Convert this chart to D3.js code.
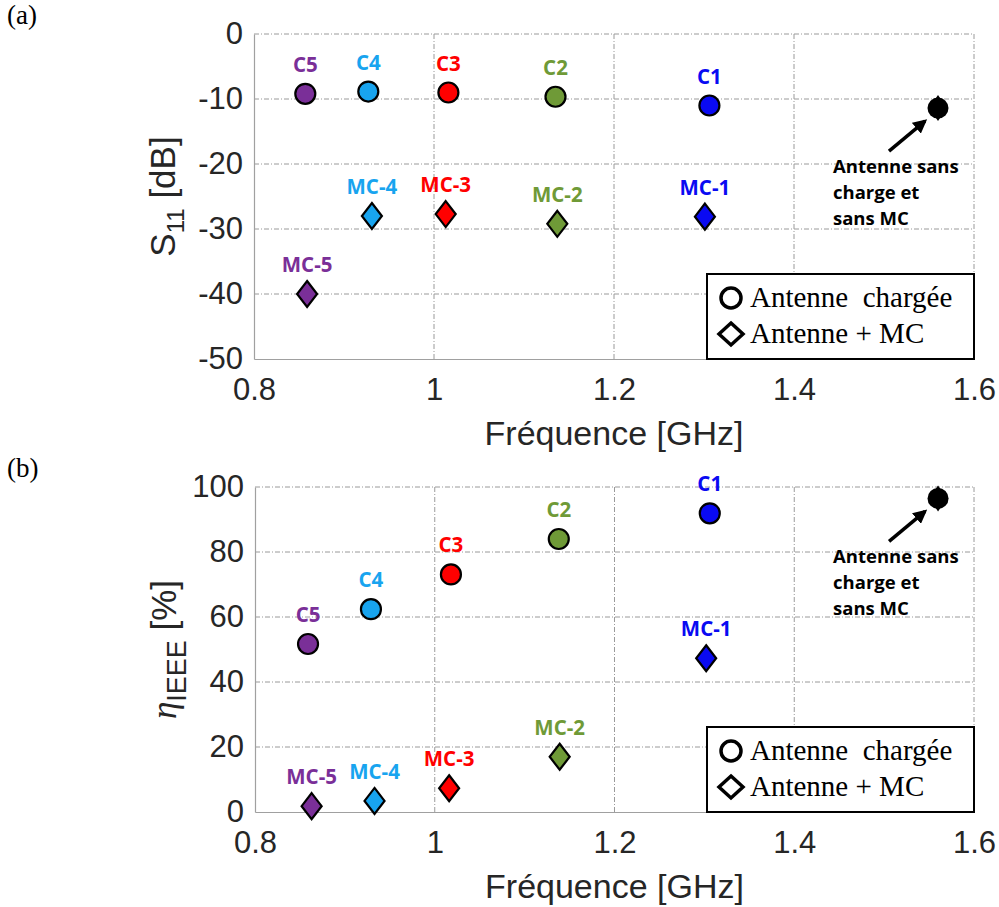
<!DOCTYPE html>
<html>
<head>
<meta charset="utf-8">
<script src="https://cdn.jsdelivr.net/npm/d3@7"></script>
<style>
  body { margin: 0; background: #fff; }
  svg { display: block; }
  .tick text { font-family: "Liberation Sans", Arial, sans-serif; fill: #262626; }
  .ptlabel { font-family: "Open Sans", sans-serif; font-weight: bold; }
</style>
</head>
<body>
<div id="chart"></div>
<script>
// point names and colours (index 0 = C1 / MC-1 ...)
var cNames = ['C1', 'C2', 'C3', 'C4', 'C5'];
var mcNames = ['MC-1', 'MC-2', 'MC-3', 'MC-4', 'MC-5'];
var colors = ['#0a0af2', '#6f9a37', '#ff0000', '#18a4ef', '#7a2f98'];

// panel (a): S11 [dB]
var freqC_a = [1.306, 1.135, 1.016, 0.927, 0.857];
var s11C = [-11.0, -9.65, -9.0, -8.85, -9.2];
var freqMC_a = [1.301, 1.137, 1.013, 0.931, 0.859];
var s11MC = [-28.1, -29.2, -27.7, -28.0, -40.0];

// panel (b): efficiency [%]
var freqC_b = [1.306, 1.138, 1.018, 0.929, 0.859];
var effC = [91.9, 84.0, 73.1, 62.4, 51.7];
var freqMC_b = [1.302, 1.139, 1.016, 0.933, 0.863];
var effMC = [47.3, 17.0, 7.3, 3.4, 1.8];

// antenna without load and without matching circuit
var refFreq = 1.56;
var refS11 = -11.4;
var refEff = 96.5;

var xTicks = [0.8, 1, 1.2, 1.4, 1.6];
var yTicksA = [-50, -40, -30, -20, -10, 0];
var yTicksB = [0, 20, 40, 60, 80, 100];

var width = 999;
var height = 907;

var svg = d3.select('#chart')
	.append('svg')
	.attr('width', width)
	.attr('height', height);

function diamond(hw, hh) {
	return 'M0,' + (-hh) + 'L' + hw + ',0L0,' + hh + 'L' + (-hw) + ',0Z';
}

// arrow head
svg.append('defs').append('marker')
	.attr('id', 'arr')
	.attr('viewBox', '0 0 10 10')
	.attr('refX', 8).attr('refY', 5)
	.attr('markerWidth', 4).attr('markerHeight', 4)
	.attr('orient', 'auto')
	.append('path')
	.attr('d', 'M0,0L10,5L0,10Z')
	.attr('fill', '#000');

function drawPanel(opt) {
	var x = d3.scaleLinear().domain([0.8, 1.6]).range([opt.left, opt.right]);
	var y = d3.scaleLinear().domain(opt.ydomain).range([opt.bottom, opt.top]);
	var g = svg.append('g');

	//grid
	g.append('g').selectAll('line')
		.data(xTicks.slice(1))
		.enter().append('line')
		.attr('x1', d => x(d)).attr('x2', d => x(d))
		.attr('y1', opt.top).attr('y2', opt.bottom)
		.attr('stroke', '#9a9a9a').attr('stroke-width', 1)
		.attr('stroke-dasharray', '5,2,1,2');
	g.append('g').selectAll('line')
		.data(opt.yticks.slice(1))
		.enter().append('line')
		.attr('x1', opt.left).attr('x2', opt.right)
		.attr('y1', d => y(d)).attr('y2', d => y(d))
		.attr('stroke', '#9a9a9a').attr('stroke-width', 1)
		.attr('stroke-dasharray', '5,2,1,2');

	//axes (plain hyphen for the minus sign, as in the original)
	var fmt = d => String(d);
	var xAxis = d3.axisBottom(x).tickValues(xTicks).tickSize(0).tickPadding(19)
		.tickFormat(fmt);
	g.append('g')
		.attr('transform', 'translate(0,' + opt.bottom + ')')
		.call(xAxis)
		.call(a => a.select('.domain').attr('stroke', '#a0a0a0').attr('stroke-width', 1.2))
		.selectAll('text').attr('font-size', 31);

	var yAxis = d3.axisLeft(y).tickValues(opt.yticks).tickSize(0).tickPadding(11)
		.tickFormat(fmt);
	g.append('g')
		.attr('transform', 'translate(' + opt.left + ',0)')
		.call(yAxis)
		.call(a => a.select('.domain').attr('stroke', '#a0a0a0').attr('stroke-width', 1.2))
		.selectAll('text').attr('font-size', 31);

	//axis titles
	g.append('text')
		.attr('x', (opt.left + opt.right) / 2)
		.attr('y', opt.bottom + 86)
		.attr('text-anchor', 'middle')
		.attr('font-family', 'Liberation Sans, Arial, sans-serif')
		.attr('font-size', 34)
		.attr('fill', '#262626')
		.text('Fréquence [GHz]');

	var yl = g.append('text')
		.attr('transform', 'translate(' + (opt.left - 79) + ',' + ((opt.top + opt.bottom) / 2) + ') rotate(-90)')
		.attr('text-anchor', 'middle')
		.attr('font-family', 'Liberation Sans, Arial, sans-serif')
		.attr('font-size', 35)
		.attr('fill', '#262626');
	opt.ylabel(yl);

	//panel letter
	g.append('text')
		.attr('x', 7).attr('y', opt.top - 10)
		.attr('font-family', 'Liberation Serif, Times New Roman, serif')
		.attr('font-size', 27)
		.text(opt.letter);

	//loaded antenna (circles) and antenna + MC (diamonds)
	var cData = d3.range(5).map(i => ({ f: opt.fc[i], v: opt.vc[i], name: cNames[i], col: colors[i] }));
	var mData = d3.range(5).map(i => ({ f: opt.fm[i], v: opt.vm[i], name: mcNames[i], col: colors[i] }));

	g.append('g').selectAll('path')
		.data(mData)
		.enter().append('path')
		.attr('d', diamond(10, 13))
		.attr('transform', d => 'translate(' + x(d.f) + ',' + y(d.v) + ')')
		.attr('fill', d => d.col)
		.attr('stroke', '#000').attr('stroke-width', 2.2);

	g.append('g').selectAll('circle')
		.data(cData)
		.enter().append('circle')
		.attr('cx', d => x(d.f))
		.attr('cy', d => y(d.v))
		.attr('r', 10)
		.attr('fill', d => d.col)
		.attr('stroke', '#000').attr('stroke-width', 2.2);

	//labels
	g.append('g').selectAll('text')
		.data(cData.concat(mData))
		.enter().append('text')
		.attr('class', 'ptlabel')
		.attr('x', d => x(d.f))
		.attr('y', d => y(d.v) - 22)
		.attr('text-anchor', 'middle')
		.attr('font-size', 20.5)
		.attr('fill', d => d.col)
		.text(d => d.name);

	//reference antenna
	var rx = x(refFreq), ry = y(opt.ref);
	g.append('path')
		.attr('d', diamond(9, 13))
		.attr('transform', 'translate(' + rx + ',' + ry + ')')
		.attr('fill', '#000');
	g.append('circle')
		.attr('cx', rx).attr('cy', ry).attr('r', 10.5)
		.attr('fill', '#000');
	g.append('line')
		.attr('x1', rx - 49).attr('y1', ry + 43)
		.attr('x2', rx - 13).attr('y2', ry + 13)
		.attr('stroke', '#000').attr('stroke-width', 3.5)
		.attr('marker-end', 'url(#arr)');
	var ann = g.append('text')
		.attr('class', 'ptlabel')
		.attr('font-size', 18.5)
		.attr('fill', '#000');
	['Antenne sans', 'charge et', 'sans MC'].forEach(function(s, i) {
		ann.append('tspan')
			.attr('x', rx - 105)
			.attr('y', ry + 65 + i * 26)
			.text(s);
	});

	//legend
	var lg = g.append('g')
		.attr('transform', 'translate(' + (opt.right - 267) + ',' + (opt.bottom - 85) + ')');
	lg.append('rect')
		.attr('width', 267).attr('height', 85)
		.attr('fill', '#fff')
		.attr('stroke', '#000').attr('stroke-width', 2);
	lg.append('circle')
		.attr('cx', 24).attr('cy', 24).attr('r', 10)
		.attr('fill', 'none').attr('stroke', '#000').attr('stroke-width', 3.5);
	lg.append('path')
		.attr('d', diamond(12, 11))
		.attr('transform', 'translate(24,60)')
		.attr('fill', 'none').attr('stroke', '#000').attr('stroke-width', 3.5);
	lg.selectAll('text.leg')
		.data(['Antenne\u00a0 chargée', 'Antenne + MC'])
		.enter().append('text')
		.attr('class', 'leg')
		.attr('x', 43)
		.attr('y', (d, i) => 33 + i * 36)
		.attr('font-family', 'Liberation Serif, Times New Roman, serif')
		.attr('font-size', 29)
		.attr('fill', '#000')
		.text(d => d);
}

drawPanel({
	letter: '(a)',
	left: 254, right: 974, top: 34, bottom: 359,
	ydomain: [-50, 0], yticks: yTicksA,
	fc: freqC_a, vc: s11C, fm: freqMC_a, vm: s11MC, ref: refS11,
	ylabel: function(t) {
		t.append('tspan').text('S');
		t.append('tspan').attr('font-size', 24).attr('dy', 9).text('11');
		t.append('tspan').attr('dy', -9).text(' [dB]');
	}
});

drawPanel({
	letter: '(b)',
	left: 255, right: 974, top: 487, bottom: 812,
	ydomain: [0, 100], yticks: yTicksB,
	fc: freqC_b, vc: effC, fm: freqMC_b, vm: effMC, ref: refEff,
	ylabel: function(t) {
		t.append('tspan').attr('font-family', 'Liberation Serif, serif').attr('font-style', 'italic').text('η');
		t.append('tspan').attr('font-size', 27).attr('dy', 10).text('IEEE');
		t.append('tspan').attr('dy', -10).text(' [%]');
	}
});
</script>
</body>
</html>
